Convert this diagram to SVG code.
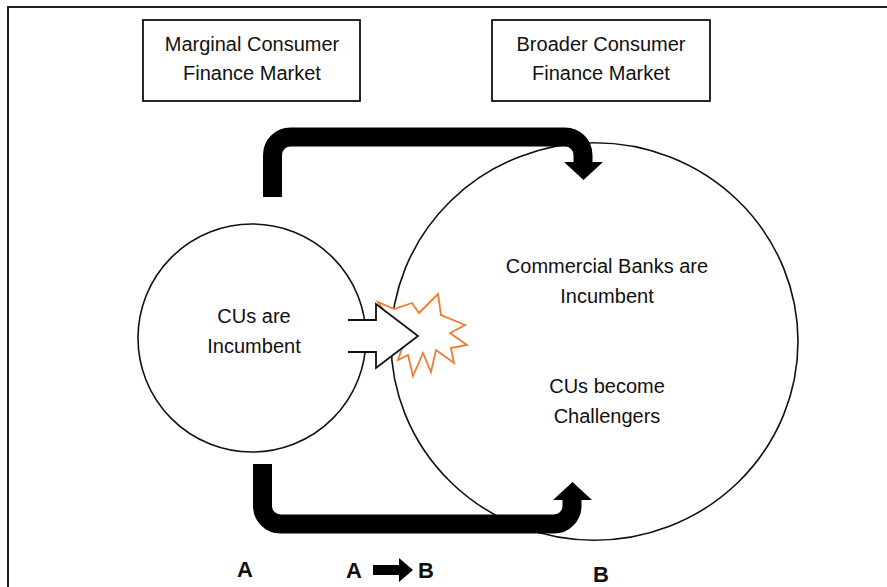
<svg xmlns="http://www.w3.org/2000/svg" width="887" height="587" viewBox="0 0 887 587">
  <style>
    .txt { font-family: "Liberation Sans", Arial, sans-serif; font-size: 20px; fill: #111; text-anchor: middle; }
    .lbl { font-family: "Liberation Sans", Arial, sans-serif; font-size: 22px; font-weight: bold; fill: #111; text-anchor: middle; }
    .box { fill: #fff; stroke: #111; stroke-width: 1.8; }
    .circ { fill: none; stroke: #111; stroke-width: 1.6; }
    .thick { fill: none; stroke: #000; stroke-width: 19; stroke-linecap: butt; stroke-linejoin: miter; }
  </style>
  <rect x="0" y="0" width="887" height="587" fill="#fff"/>
  <rect id="frame" x="8" y="7" width="900" height="600" fill="none" stroke="#222" stroke-width="2"/>

  <g id="box-marginal">
    <rect class="box" x="143" y="20" width="217" height="81"/>
    <text class="txt" x="252" y="51">Marginal Consumer</text>
    <text class="txt" x="252" y="80">Finance Market</text>
  </g>
  <g id="box-broader">
    <rect class="box" x="492" y="20" width="218" height="81"/>
    <text class="txt" x="601" y="51">Broader Consumer</text>
    <text class="txt" x="601" y="80">Finance Market</text>
  </g>

  <g id="circle-A">
    <circle class="circ" cx="252" cy="338" r="114"/>
    <text class="txt" x="254" y="323">CUs are</text>
    <text class="txt" x="254" y="353">Incumbent</text>
  </g>
  <g id="circle-B">
    <ellipse class="circ" cx="594.5" cy="341.5" rx="203.5" ry="198.7"/>
    <text class="txt" x="607" y="273">Commercial Banks are</text>
    <text class="txt" x="607" y="303">Incumbent</text>
    <text class="txt" x="607" y="393">CUs become</text>
    <text class="txt" x="607" y="423">Challengers</text>
  </g>

  <g id="connectors">
    <path class="thick" d="M272.5,197 V155 A18,18 0 0 1 290.5,137 H565 A18,18 0 0 1 583,155 V163"/>
    <polygon points="564,162 603,162 583.5,180" fill="#000"/>
    <path class="thick" d="M262.5,464 V506 A18,18 0 0 0 280.5,524 H554 A18,18 0 0 0 572,506 V499"/>
    <polygon points="553,500 592,500 572.5,482" fill="#000"/>
    <polygon id="burst" points="378,302 394,309 412,303 419,313 438,294 441,315 465,325 450,333 467,345 451,348 454,363 436,350 431,372 423,353 413,376 408,355 398,360 404,342 392,322" fill="#fff" stroke="#ED7D31" stroke-width="1.8" stroke-linejoin="miter"/>
    <path id="open-arrow" d="M348,320 H376 V304 L418,336 L376,368 V352 H348" fill="#fff" stroke="#111" stroke-width="1.8" stroke-linejoin="miter"/>
  </g>

  <g id="labels">
    <text class="lbl" x="245" y="577">A</text>
    <text class="lbl" x="354" y="578">A</text>
    <polygon points="373,565 399,565 399,558 413,570 399,582 399,575 373,575" fill="#000"/>
    <text class="lbl" x="426" y="578">B</text>
    <text class="lbl" x="601" y="582">B</text>
  </g>
</svg>
